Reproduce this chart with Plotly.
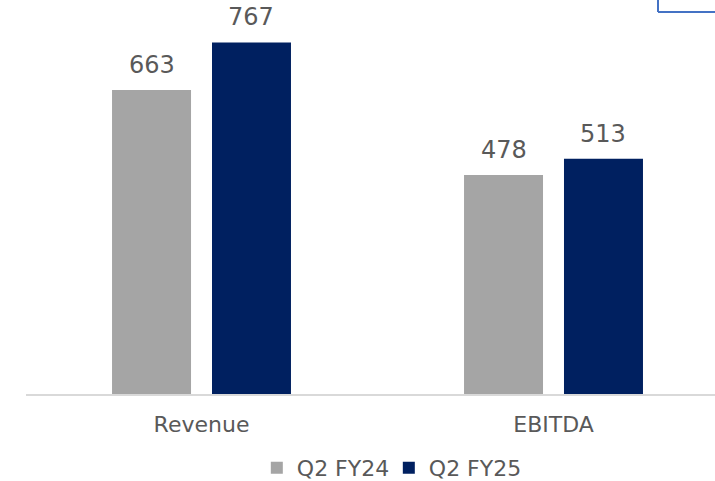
import plotly.graph_objects as go

categories = ["Revenue", "EBITDA"]
series_names = ["Q2 FY24", "Q2 FY25"]
values_fy24 = [663, 478]
values_fy25 = [767, 513]
colors = ["#A5A5A5", "#002060"]

FONT = "DejaVu Sans"
TEXT_COLOR = "#595959"

BAR_W = 0.2244
centers = [-0.142, 0.142]

fig = go.Figure()
for name, vals, col, c in zip(series_names, [values_fy24, values_fy25], colors, centers):
    fig.add_trace(go.Bar(
        name=name, x=categories, y=vals,
        width=BAR_W, offset=c - BAR_W / 2,
        marker=dict(color=col, line=dict(width=0)),
    ))

# value labels above each bar
annotations = []
for c, vals in zip(centers, [values_fy24, values_fy25]):
    for i, v in enumerate(vals):
        annotations.append(dict(
            x=i + c, y=v, xref="x", yref="y", text=f"{v:,}", showarrow=False,
            yanchor="bottom", yshift=9,
            font=dict(family=FONT, size=24, color=TEXT_COLOR),
        ))

fig.update_layout(
    width=715, height=481,
    margin=dict(l=26, r=0, t=0, b=87),
    paper_bgcolor="white", plot_bgcolor="white",
    barmode="overlay",
    showlegend=True,
    legend=dict(
        orientation="h", xref="container", yref="container",
        x=0.5438, xanchor="center", y=0.027, yanchor="middle",
        font=dict(family=FONT, size=22, color=TEXT_COLOR),
        itemwidth=30, traceorder="normal",
        entrywidth=87, entrywidthmode="pixels",
    ),
    xaxis=dict(
        type="category", range=[-0.4986, 1.4588],
        showline=True, linecolor="#D9D9D9", linewidth=2,
        ticks="", showgrid=False, zeroline=False,
        ticklabelstandoff=10,
        tickfont=dict(family=FONT, size=22, color=TEXT_COLOR),
    ),
    yaxis=dict(range=[0, 859.5], visible=False, showgrid=False, zeroline=False),
    annotations=annotations,
    shapes=[
        dict(type="line", xref="paper", yref="paper", x0=0.9173, x1=0.9173,
             y0=1.0, y1=0.9695, line=dict(color="#4472C4", width=2)),
        dict(type="line", xref="paper", yref="paper", x0=0.9173, x1=1.0,
             y0=0.9695, y1=0.9695, line=dict(color="#4472C4", width=2)),
    ],
)

fig.write_html("out.html")
